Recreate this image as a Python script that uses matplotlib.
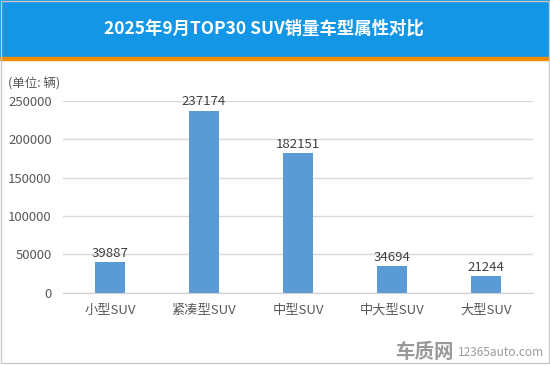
import matplotlib.pyplot as plt
from matplotlib.patches import Rectangle

plt.rcParams['font.family'] = ['Noto Sans CJK SC', 'DejaVu Sans']

# --- data ---
categories = ['小型SUV', '紧凑型SUV', '中型SUV', '中大型SUV', '大型SUV']
sales = [39887, 237174, 182151, 34694, 21244]
yticks = [0, 50000, 100000, 150000, 200000, 250000]
title = '2025年9月TOP30 SUV销量车型属性对比'

fig = plt.figure(figsize=(5.5, 3.65), dpi=100)

# header band
fig.patches.append(Rectangle((0, 1 - 57 / 365), 1, 57 / 365, transform=fig.transFigure,
                             color='#1396e6', zorder=0))
fig.patches.append(Rectangle((0, 1 - 60 / 365), 1, 3 / 365, transform=fig.transFigure,
                             color='#f08a00', zorder=0))
# frame
fig.patches.append(Rectangle((0.5 / 550, 2 / 365), 548 / 550, 362 / 365, transform=fig.transFigure,
                             fill=False, edgecolor='#c8c8c8', linewidth=1, zorder=1))

fig.text(264 / 550, 1 - 29 / 365, title, color='white', fontsize=12.5, fontweight='bold',
         ha='center', va='center')

ax = fig.add_axes([63 / 550, 72.3 / 365, 470 / 550, 192 / 365])
x = range(len(categories))
ax.bar(x, sales, width=0.31, color='#5b9bd5', zorder=3)
for xi, v in zip(x, sales):
    ax.text(xi, v + 3000, str(v), ha='center', va='bottom', fontsize=9.5, color='#404040')

ax.set_xlim(-0.5, len(categories) - 0.5)
ax.set_ylim(0, 250000)
ax.set_yticks(yticks)
ax.set_yticklabels([str(t) for t in yticks])
ax.set_xticks(list(x))
ax.set_xticklabels(categories)
ax.tick_params(axis='both', length=0, labelsize=9.5, labelcolor='#595959')
ax.tick_params(axis='y', pad=8)
ax.tick_params(axis='x', pad=8)
ax.grid(axis='y', color='#d9d9d9', linewidth=1, zorder=0)
for s in ['top', 'right', 'left']:
    ax.spines[s].set_visible(False)
ax.spines['bottom'].set_color('#d0d0d0')
ax.spines['bottom'].set_zorder(4)

fig.text(8 / 550, 1 - 84 / 365, '(单位: 辆)', fontsize=9, color='#595959', va='center')

# watermark
fig.text(395 / 550, 1 - 352 / 365, '车质网', fontsize=14, fontweight='bold', color='#9a9a9a',
         va='center', ha='left')
fig.text(458 / 550, 1 - 353 / 365, '12365auto.com', fontsize=8.5, color='#9a9a9a',
         va='center', ha='left')

fig.savefig('out.png', dpi=100)
